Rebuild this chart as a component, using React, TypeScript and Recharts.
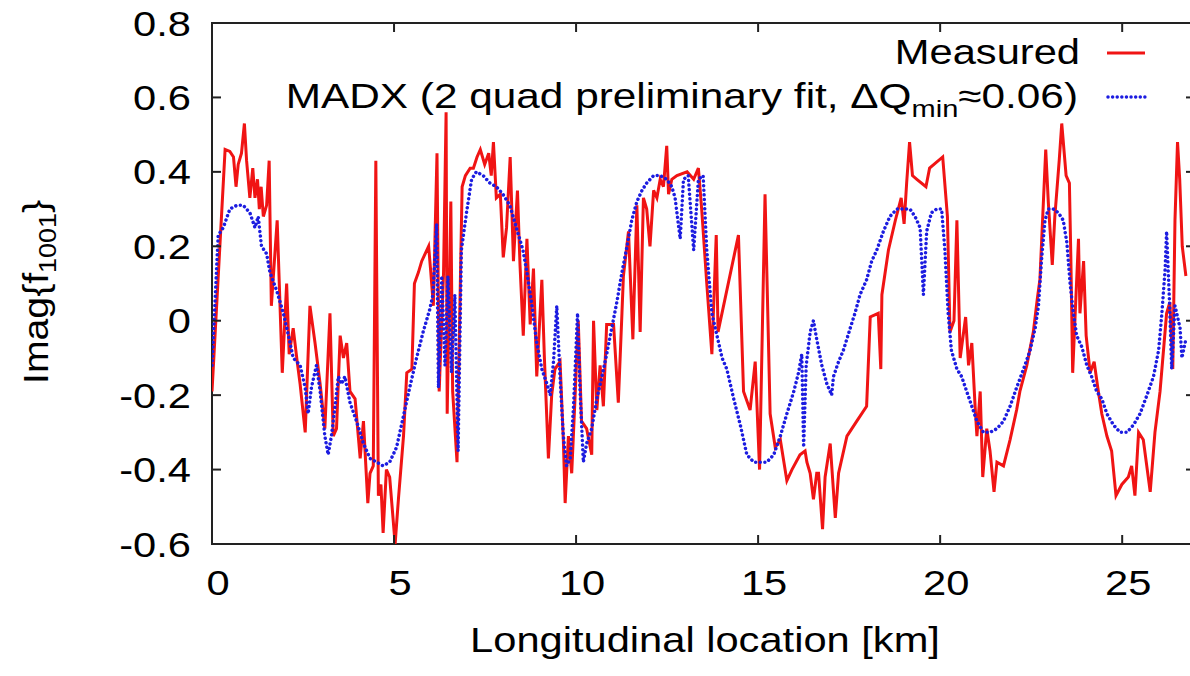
import { LineChart, Line, XAxis, YAxis, ReferenceArea, Legend } from "recharts";

// Measured coupling (red), km along the ring
const measuredKm = [
  0.0, 0.36, 0.49, 0.59, 0.66, 0.72, 0.81, 0.89, 0.95, 1.04, 1.12, 1.18, 1.25, 1.3, 1.35, 1.41, 1.5, 1.57,
  1.63, 1.79, 1.93, 2.05, 2.12, 2.23, 2.34, 2.42, 2.56, 2.69, 2.83, 2.97, 3.1, 3.24, 3.33, 3.42, 3.52, 3.61,
  3.7, 3.79, 3.93, 4.07, 4.16, 4.28, 4.34, 4.43, 4.5, 4.57, 4.64, 4.7, 4.79, 4.88, 5.03, 5.12, 5.26, 5.35,
  5.49, 5.56, 5.67, 5.76, 5.95, 6.01, 6.08, 6.18, 6.24, 6.36, 6.43, 6.46, 6.56, 6.61, 6.73, 6.87, 6.96, 7.09,
  7.18, 7.28, 7.37, 7.49, 7.6, 7.67, 7.73, 7.81, 7.92, 8.0, 8.09, 8.19, 8.28, 8.39, 8.46, 8.55, 8.65, 8.74,
  8.83, 8.92, 9.06, 9.13, 9.24, 9.33, 9.42, 9.56, 9.65, 9.7, 9.79, 9.88, 9.97, 10.06, 10.15, 10.29, 10.43,
  10.48, 10.57, 10.66, 10.75, 10.84, 11.03, 11.16, 11.26, 11.3, 11.44, 11.56, 11.67, 11.76, 11.85, 11.94,
  12.03, 12.13, 12.22, 12.31, 12.4, 12.49, 12.54, 12.63, 12.77, 13.05, 13.23, 13.36, 13.45, 13.59, 13.73,
  13.85, 13.9, 14.46, 14.6, 14.78, 14.92, 15.04, 15.19, 15.33, 15.47, 15.61, 15.79, 15.93, 16.15, 16.29,
  16.34, 16.43, 16.52, 16.61, 16.66, 16.77, 16.84, 16.98, 17.12, 17.21, 17.44, 17.71, 17.98, 18.08, 18.3,
  18.37, 18.4, 18.58, 18.77, 18.93, 19.01, 19.08, 19.16, 19.24, 19.36, 19.61, 19.71, 20.07, 20.2, 20.27,
  20.38, 20.46, 20.55, 20.7, 20.78, 20.87, 20.96, 21.01, 21.1, 21.17, 21.28, 21.37, 21.48, 21.56, 21.74,
  21.92, 22.1, 22.19, 22.38, 22.56, 22.67, 22.74, 22.9, 22.97, 23.08, 23.15, 23.27, 23.34, 23.46, 23.55,
  23.59, 23.64, 23.71, 23.8, 23.84, 23.94, 24.01, 24.12, 24.23, 24.33, 24.44, 24.58, 24.71, 24.83, 24.99,
  25.17, 25.26, 25.35, 25.45, 25.58, 25.77, 25.9, 26.04, 26.22, 26.31, 26.39, 26.45, 26.52, 26.58, 26.65,
  26.75,
];
const measuredVal = [
  -0.19, 0.46, 0.455, 0.44, 0.36, 0.42, 0.45, 0.53, 0.43, 0.33, 0.41, 0.33, 0.38, 0.3, 0.36, 0.28, 0.31, 0.43,
  0.04, 0.27, -0.14, 0.1, -0.09, -0.02, -0.11, -0.17, -0.3, 0.04, -0.06, -0.17, -0.29, 0.02, -0.31, -0.29, -0.04, -0.1,
  -0.06, -0.19, -0.21, -0.37, -0.27, -0.49, -0.41, -0.39, 0.43, -0.47, -0.44, -0.57, -0.4, -0.42, -0.6, -0.48, -0.31, -0.14,
  -0.13, 0.1, 0.13, 0.16, 0.2, 0.13, 0.04, 0.45, -0.19, 0.13, 0.56, -0.25, 0.32, -0.19, -0.38, 0.36, 0.39, 0.41,
  0.41, 0.44, 0.46, 0.42, 0.45, 0.39, 0.48, 0.33, 0.34, 0.17, 0.25, 0.44, 0.16, 0.35, 0.15, -0.04, 0.22, -0.01,
  0.14, -0.15, 0.11, -0.1, -0.37, -0.2, -0.13, -0.11, -0.32, -0.49, -0.31, -0.41, -0.21, 0.0, -0.27, -0.29, -0.36,
  0.0, -0.24, -0.12, -0.23, -0.01, -0.01, -0.22, 0.02, 0.12, 0.24, -0.05, 0.31, -0.03, 0.33, 0.3,
  0.2, 0.35, 0.33, 0.38, 0.36, 0.47, 0.34, 0.38, 0.39, 0.4, 0.38, 0.41, 0.3, 0.1, -0.09,
  0.23, -0.03, 0.23, -0.19, -0.24, -0.11, -0.4, 0.34, -0.25, -0.34, -0.32, -0.43, -0.4, -0.36, -0.35,
  -0.38, -0.41, -0.48, -0.41, -0.41, -0.56, -0.42, -0.33, -0.53, -0.41, -0.31, -0.27, -0.23, 0.01, 0.02,
  -0.13, 0.07, 0.19, 0.27, 0.33, 0.26, 0.37, 0.48, 0.39, 0.38, 0.36, 0.41, 0.44, 0.28, -0.03,
  0.0, 0.27, -0.1, 0.01, -0.12, -0.06, -0.23, -0.31, -0.19, -0.42, -0.29, -0.35, -0.46, -0.38, -0.39,
  -0.32, -0.24, -0.19, -0.12, -0.03, 0.06, 0.11, 0.46, 0.32, 0.15, 0.28, 0.43, 0.53, 0.39, 0.37,
  0.17, -0.14, 0.02, 0.22, 0.02, 0.16, -0.04, -0.14, -0.11, -0.18, -0.25, -0.31, -0.35, -0.47, -0.44,
  -0.42, -0.39, -0.47, -0.3, -0.32, -0.46, -0.3, -0.19, 0.02, 0.05, -0.13, 0.27, 0.48, 0.38, 0.2,
  0.12,
];

// MADX model (blue dotted)
const madxKm = [
  0.0, 0.17, 0.31, 0.49, 0.68, 0.86, 1.04, 1.18, 1.27, 1.36, 1.5, 1.59, 1.78, 1.96, 2.1, 2.23, 2.42, 2.56,
  2.64, 2.73, 2.87, 2.97, 3.1, 3.19, 3.28, 3.38, 3.47, 3.56, 3.65, 3.79, 3.97, 4.16, 4.34, 4.52, 4.7, 4.88,
  5.07, 5.25, 5.43, 5.62, 5.8, 5.98, 6.07, 6.17, 6.22, 6.31, 6.4, 6.48, 6.58, 6.67, 6.76, 6.85, 6.99, 7.13,
  7.26, 7.45, 7.63, 7.81, 7.99, 8.18, 8.36, 8.54, 8.65, 8.79, 8.92, 9.06, 9.2, 9.29, 9.38, 9.47, 9.56, 9.65,
  9.74, 9.84, 9.93, 10.04, 10.11, 10.2, 10.29, 10.43, 10.57, 10.71, 10.84, 10.98, 11.12, 11.26, 11.4, 11.53,
  11.67, 11.81, 11.94, 12.13, 12.31, 12.49, 12.63, 12.72, 12.86, 12.95, 13.08, 13.23, 13.36, 13.49, 13.59,
  13.73, 13.87, 14.01, 14.14, 14.33, 14.51, 14.69, 14.88, 15.06, 15.24, 15.43, 15.61, 15.79, 15.98, 16.11,
  16.2, 16.25, 16.32, 16.43, 16.52, 16.61, 16.75, 16.89, 17.02, 17.07, 17.21, 17.34, 17.53, 17.66, 17.8,
  17.98, 18.12, 18.26, 18.44, 18.62, 18.81, 18.99, 19.17, 19.31, 19.45, 19.54, 19.63, 19.76, 19.9, 20.04,
  20.13, 20.22, 20.31, 20.46, 20.59, 20.73, 20.87, 21.01, 21.19, 21.37, 21.56, 21.74, 21.92, 22.1, 22.29,
  22.47, 22.61, 22.7, 22.79, 22.88, 22.97, 23.11, 23.25, 23.38, 23.48, 23.57, 23.66, 23.75, 23.89, 24.03,
  24.16, 24.3, 24.44, 24.58, 24.76, 24.94, 25.13, 25.31, 25.49, 25.68, 25.86, 26.0, 26.09, 26.18, 26.22,
  26.3, 26.36, 26.45, 26.59, 26.64, 26.75,
];
const madxVal = [
  -0.12, 0.23, 0.25, 0.3, 0.31, 0.31, 0.29, 0.25, 0.28, 0.2, 0.18, 0.13, 0.08, 0.02, -0.04, -0.1, -0.12, -0.18,
  -0.25, -0.18, -0.12, -0.19, -0.31, -0.36, -0.31, -0.23, -0.15, -0.17, -0.15, -0.22, -0.27, -0.33, -0.37, -0.38, -0.39, -0.38,
  -0.34, -0.26, -0.18, -0.1, -0.03, 0.03, 0.07, 0.26, -0.18, 0.12, -0.12, 0.12, -0.14, 0.07, -0.35, 0.19, 0.29, 0.38,
  0.4, 0.39, 0.37, 0.36, 0.34, 0.31, 0.25, 0.19, 0.13, 0.04, -0.06, -0.13, -0.17, -0.2, -0.11, 0.04, -0.15, -0.31,
  -0.39, -0.37, -0.23, 0.02, -0.19, -0.38, -0.33, -0.29, -0.21, -0.15, -0.09, -0.02, 0.05, 0.13, 0.2, 0.27,
  0.32, 0.35, 0.37, 0.39, 0.39, 0.38, 0.36, 0.33, 0.22, 0.38, 0.39, 0.19, 0.38, 0.39, 0.19,
  0.02, -0.04, -0.1, -0.13, -0.21, -0.28, -0.36, -0.38, -0.38, -0.38, -0.36, -0.31, -0.25, -0.19, -0.14,
  -0.09, -0.34, -0.12, -0.03, 0.0, -0.05, -0.12, -0.17, -0.2, -0.15, -0.11, -0.08, -0.02, 0.02, 0.07,
  0.11, 0.16, 0.19, 0.24, 0.28, 0.3, 0.3, 0.3, 0.28, 0.25, 0.07, 0.24, 0.29, 0.3, 0.3,
  0.19, 0.02, -0.08, -0.13, -0.15, -0.19, -0.23, -0.27, -0.3, -0.3, -0.29, -0.27, -0.23, -0.18, -0.13,
  -0.08, -0.02, 0.04, 0.17, 0.27, 0.3, 0.3, 0.29, 0.27, 0.21, 0.1, 0.02, -0.04, -0.07, -0.12,
  -0.15, -0.19, -0.21, -0.25, -0.28, -0.3, -0.3, -0.28, -0.25, -0.2, -0.15, -0.08, 0.02, 0.14, 0.24,
  0.05, -0.13, 0.04, -0.02, -0.1, -0.05,
];

const xTicks = [0, 5, 10, 15, 20, 25];
const yTicks = [-0.6, -0.4, -0.2, 0, 0.2, 0.4, 0.6, 0.8];

const measured = measuredKm.map((x, i) => ({ x, y: measuredVal[i] }));
const madx = madxKm.map((x, i) => ({ x, y: madxVal[i] }));

// frame geometry (plot box is cut by the page at the right, like the source)
const W = 1230;
const H = 676;
const PL = 212;
const PR = 1195;
const PT = 23;
const PB = 544;
const XAXIS_H = 60;

const FONT = "'Liberation Sans', Arial, Helvetica, sans-serif";
const INK = "#222";
const RED = "#f01414";
const BLUE = "#1c1ce0";
const STRETCH = 1.19;
const DOTS = "0.01 4.6";

function XTick(props: any) {
  const { x, payload } = props;
  return (
    <g>
      <line x1={x} x2={x} y1={PB} y2={PB - 9} stroke={INK} strokeWidth={2} />
      <line x1={x} x2={x} y1={PT} y2={PT + 9} stroke={INK} strokeWidth={2} />
      <text
        transform={`translate(${x + 6},595) scale(${STRETCH},1)`}
        textAnchor="middle"
        fontSize={35}
        fontFamily={FONT}
        fill="#000"
      >
        {payload.value}
      </text>
    </g>
  );
}

function YTick(props: any) {
  const { y, payload } = props;
  const v = payload.value;
  const label = v === 0 ? "0" : v.toFixed(1);
  return (
    <g>
      <line x1={PL} x2={PL + 9} y1={y} y2={y} stroke={INK} strokeWidth={2} />
      <line x1={PR - 9} x2={PR} y1={y} y2={y} stroke={INK} strokeWidth={2} />
      <text
        transform={`translate(191,${y + 12.5}) scale(${STRETCH},1)`}
        textAnchor="end"
        fontSize={35}
        fontFamily={FONT}
        fill="#000"
      >
        {label}
      </text>
    </g>
  );
}

function XTitle() {
  return (
    <text
      transform={`translate(705,652) scale(${STRETCH},1)`}
      textAnchor="middle"
      fontSize={35}
      fontFamily={FONT}
      fill="#000"
    >
      Longitudinal location [km]
    </text>
  );
}

function YTitle() {
  return (
    <text
      transform="translate(48,292) rotate(-90) scale(1.12,1)"
      textAnchor="middle"
      fontSize={35}
      fontFamily={FONT}
      fill="#000"
    >
      Imag{"{"}f
      <tspan fontSize={24} dy={8}>
        1001
      </tspan>
      <tspan dy={-8}>{"}"}</tspan>
    </text>
  );
}

function KeyBox() {
  return (
    <svg width={W} height={130} style={{ display: "block" }}>
      <text
        transform={`translate(1080,64) scale(${STRETCH},1)`}
        textAnchor="end"
        fontSize={35}
        fontFamily={FONT}
        fill="#000"
      >
        Measured
      </text>
      <line x1={1107} x2={1145} y1={53} y2={53} stroke={RED} strokeWidth={3} />
      <text
        transform="translate(1078,108) scale(1.21,1)"
        textAnchor="end"
        fontSize={35}
        fontFamily={FONT}
        fill="#000"
      >
        MADX (2 quad preliminary fit, ΔQ
        <tspan fontSize={24} dy={9}>
          min
        </tspan>
        <tspan dy={-9}>≈0.06)</tspan>
      </text>
      <line
        x1={1108}
        x2={1145}
        y1={97}
        y2={97}
        stroke={BLUE}
        strokeWidth={3.5}
        strokeDasharray={DOTS}
        strokeLinecap="round"
      />
    </svg>
  );
}

export default function App() {
  return (
    <div
      style={{
        position: "absolute",
        left: 0,
        top: 0,
        width: 1190,
        height: 676,
        overflow: "hidden",
        background: "#fff",
      }}
    >
      <LineChart
        width={W}
        height={H}
        margin={{ top: PT, right: W - PR, bottom: H - PB - XAXIS_H, left: 0 }}
      >
        <XAxis
          type="number"
          dataKey="x"
          domain={[0, 27]}
          ticks={xTicks}
          interval={0}
          height={XAXIS_H}
          axisLine={false}
          tickLine={false}
          tick={<XTick />}
          label={<XTitle />}
          allowDataOverflow
        />
        <YAxis
          type="number"
          dataKey="y"
          domain={[-0.6, 0.8]}
          ticks={yTicks}
          interval={0}
          width={PL}
          axisLine={false}
          tickLine={false}
          tick={<YTick />}
          label={<YTitle />}
          allowDataOverflow
        />
        <ReferenceArea
          x1={0}
          x2={27}
          y1={-0.6}
          y2={0.8}
          fill="none"
          fillOpacity={0}
          stroke={INK}
          strokeWidth={2}
          ifOverflow="visible"
        />
        <Line
          data={measured}
          dataKey="y"
          type="linear"
          stroke={RED}
          strokeWidth={3}
          dot={false}
          activeDot={false}
          isAnimationActive={false}
        />
        <Line
          data={madx}
          dataKey="y"
          type="linear"
          stroke={BLUE}
          strokeWidth={3.5}
          strokeDasharray={DOTS}
          strokeLinecap="round"
          dot={false}
          activeDot={false}
          isAnimationActive={false}
        />
        <Legend
          layout="horizontal"
          verticalAlign="middle"
          align="center"
          content={() => <KeyBox />}
          wrapperStyle={{ left: 0, top: 0, width: W, height: 130 }}
        />
      </LineChart>
    </div>
  );
}
